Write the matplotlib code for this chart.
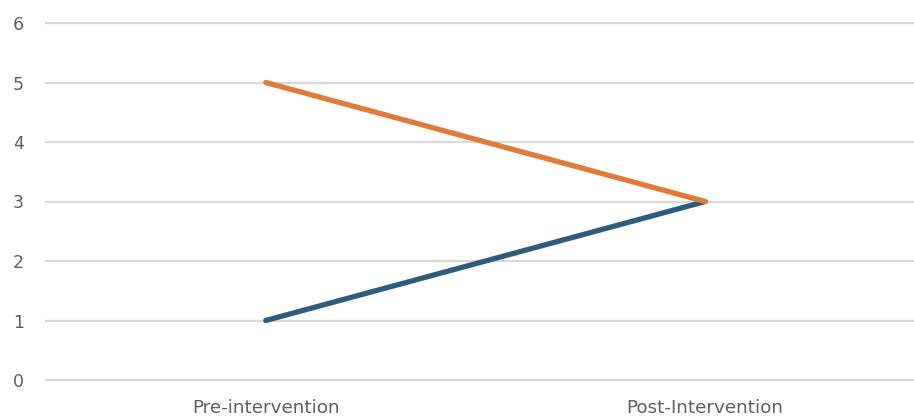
import matplotlib
matplotlib.use("Agg")
import matplotlib.pyplot as plt

plt.rcParams["font.family"] = ["DejaVu Sans"]

# Two-point before/after comparison
categories = ["Pre-intervention", "Post-Intervention"]
series_a = [1, 3]   # blue
series_b = [5, 3]   # orange
y_ticks = [0, 1, 2, 3, 4, 5, 6]

fig = plt.figure(figsize=(9.14, 4.17), dpi=100)
ax = fig.add_axes([46 / 914, 1 - 380 / 417, 1 - 46 / 914, (380 - 23) / 417])

x = range(len(categories))
ax.plot(x, series_a, color="#2b5d7d", linewidth=3.8, solid_capstyle="round",
        solid_joinstyle="round", zorder=3)
ax.plot(x, series_b, color="#e07b3b", linewidth=3.8, solid_capstyle="round",
        solid_joinstyle="round", zorder=3)

ax.set_xlim(-0.5, 1.475)
ax.set_ylim(0, 6)
ax.set_yticks(y_ticks)
ax.set_xticks(list(x))
ax.set_xticklabels(categories)

ax.grid(axis="y", color="#d9d9d9", linewidth=1.6)
for gl in ax.get_ygridlines():
    gl.set_clip_on(False)
ax.set_axisbelow(True)
for s in ax.spines.values():
    s.set_visible(False)
ax.tick_params(axis="both", length=0, colors="#5f5f5f")
ax.tick_params(axis="y", pad=16, labelsize=12.5)
ax.tick_params(axis="x", pad=14, labelsize=13.2)

fig.savefig("out.png", dpi=100)
